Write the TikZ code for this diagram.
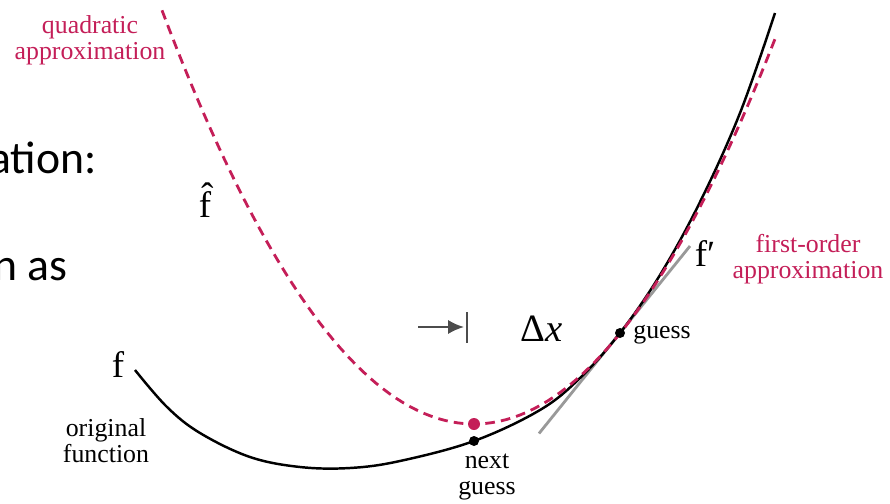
\documentclass[tikz,border=0pt]{standalone}
\usepackage{fontspec}
\setmainfont{Liberation Serif}
\newfontfamily\slidefont{Carlito}
\usetikzlibrary{positioning,arrows.meta,calc}

\begin{document}
\begin{tikzpicture}[
  lbl/.style={font=\fontsize{14.7}{14.7}\selectfont, align=center, inner sep=0pt},
  sym/.style={font=\fontsize{21}{21}\selectfont, inner sep=0pt},
  slide/.style={font=\slidefont\fontsize{26}{26}\selectfont, anchor=base east, inner sep=0pt},
  dot/.style={circle, fill=black, inner sep=0pt, minimum size=0.2cm},
]
\definecolor{crim}{RGB}{196,30,88}
\definecolor{lgrey}{gray}{0.6}
\definecolor{dgrey}{gray}{0.3}
\useasboundingbox (0,0) rectangle (17.8,10.06);
% slide text, cut at the left edge
\node[slide] (s1) at (1.94,6.60) {ation:};
\node[slide] (s2) at (1.36,4.46) {n as};
% tangent at the guess
\coordinate (g) at (12.40,3.40);
\coordinate (t1) at ($(g)+(-1.62,-2.01)$);
\coordinate (t2) at ($(g)+(1.40,1.74)$);
\draw[lgrey, line width=1.6pt] (t1) -- (t2);
% original function
\draw[line width=1.4pt] plot[smooth, tension=0.6] coordinates {
  (2.70,2.66) (3.34,1.92) (4.00,1.40) (5.00,0.92) (6.00,0.72) (7.00,0.70)
  (8.00,0.84) (9.48,1.24) (10.80,1.86) (11.60,2.50) (12.40,3.40)
  (13.20,4.56) (14.00,6.02) (14.80,7.80) (15.50,9.80)};
% quadratic approximation
\draw[crim, line width=1.6pt, dash pattern=on 5.5pt off 3.5pt, domain=3.24:15.5, samples=90]
  plot (\x,{1.58+0.2125*(\x-9.48)^2});
% points
\node[dot] (guess) at (g) {};
\node[dot] (next) at (9.48,1.24) {};
\node[dot, fill=crim, minimum size=0.24cm] (qmin) at (9.48,1.58) {};
% labels
\node[lbl, text=crim] (qlab) at (1.80,9.26) {quadratic\\approximation};
\node[sym] (fhat) at (4.10,6.06) {\^f};
\node[sym] (f) at (2.36,2.76) {f};
\node[lbl] (olab) at (2.12,1.24) {original\\function};
\node[lbl] (nlab) at (9.74,0.52) {next\\guess};
\node[lbl, anchor=west] (glab) at (12.66,3.36) {guess};
\node[sym] (fp) at (14.10,4.98) {f′};
\node[lbl, text=crim] (flab) at (16.16,4.88) {first-order\\approximation};
\node[sym, font=\fontsize{22}{22}\selectfont] (dx) at (10.84,3.48) {Δ\textit{x}};
% step marker
\coordinate (a1) at (8.36,3.52);
\coordinate (a2) at (9.28,3.52);
\coordinate (b1) at (9.34,3.82);
\coordinate (b2) at (9.34,3.20);
\draw[dgrey, line width=1.2pt, -{Latex[length=9pt, width=8pt]}] (a1) -- (a2);
\draw[dgrey, line width=1.2pt] (b1) -- (b2);
\end{tikzpicture}
\end{document}
